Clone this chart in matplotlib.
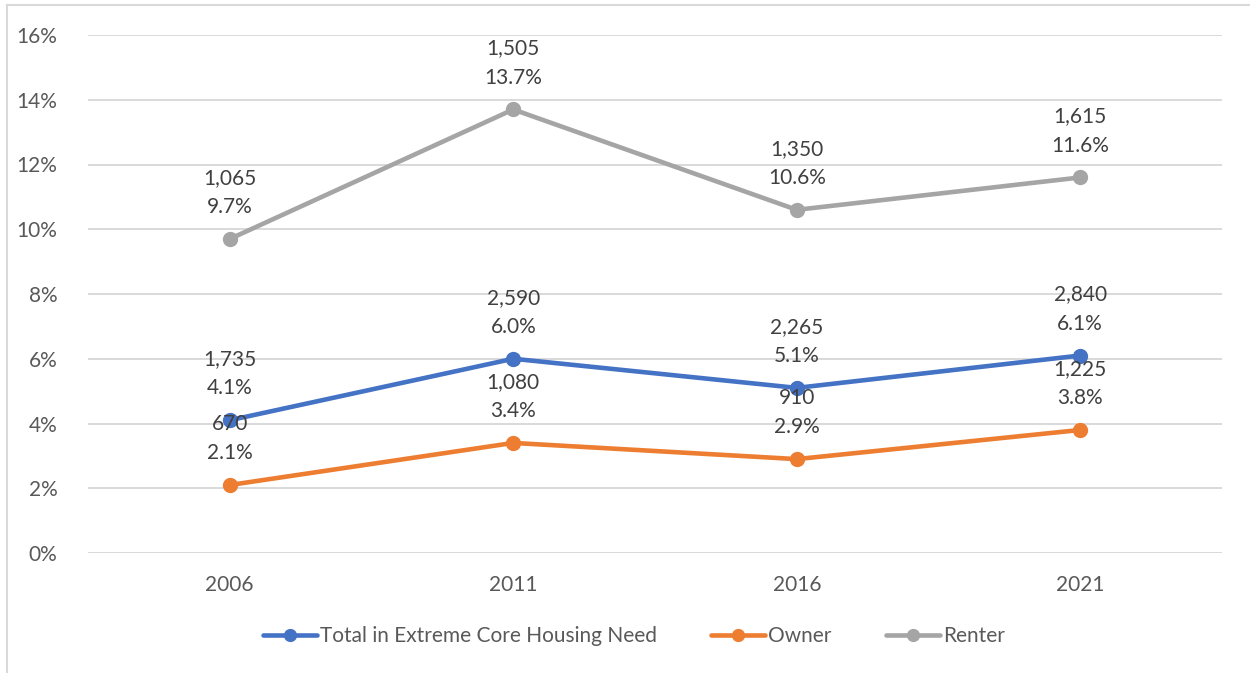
import matplotlib.pyplot as plt
from matplotlib.lines import Line2D
from matplotlib.ticker import FuncFormatter

# census years and extreme core housing need, share and household counts
years = ["2006", "2011", "2016", "2021"]
total_pct = [4.1, 6.0, 5.1, 6.1]
total_cnt = [1735, 2590, 2265, 2840]
owner_pct = [2.1, 3.4, 2.9, 3.8]
owner_cnt = [670, 1080, 910, 1225]
renter_pct = [9.7, 13.7, 10.6, 11.6]
renter_cnt = [1065, 1505, 1350, 1615]

series = [
    ("Total in Extreme Core Housing Need", total_pct, total_cnt, "#4472C4"),
    ("Owner", owner_pct, owner_cnt, "#ED7D31"),
    ("Renter", renter_pct, renter_cnt, "#A5A5A5"),
]

plt.rcParams['font.family'] = ['Lato', 'DejaVu Sans']
label_col = "#404040"
tick_col = "#595959"
fs = 15

fig = plt.figure(figsize=(12.5, 6.73), dpi=100)
ax = fig.add_axes([88 / 1250, 1 - 553 / 673, 1134 / 1250, 518 / 673])

x = list(range(len(years)))
for name, pct, cnt, col in series:
    ax.plot(x, pct, color=col, lw=3.3, marker="o", ms=10, label=name,
            solid_capstyle="round", zorder=3)
    for xi, p, c in zip(x, pct, cnt):
        ax.annotate(f"{p:.1f}%", (xi, p), xytext=(0, 23), textcoords="offset points",
                    ha="center", va="center", fontsize=fs, color=label_col, zorder=4)
        ax.annotate(f"{c:,}", (xi, p), xytext=(0, 44), textcoords="offset points",
                    ha="center", va="center", fontsize=fs, color=label_col, zorder=4)

ax.set_xlim(-0.5, 3.5)
ax.set_ylim(0, 16)
ax.set_yticks(range(0, 17, 2))
ax.yaxis.set_major_formatter(FuncFormatter(lambda v, _: f"{v:.0f}%"))
ax.set_xticks(x)
ax.set_xticklabels(years)
ax.tick_params(length=0, labelsize=fs, colors=tick_col)
ax.tick_params(axis="y", pad=22)
ax.tick_params(axis="x", pad=16)
ax.grid(axis="y", color="#D9D9D9", lw=1.4)
ax.set_axisbelow(True)
for s in ax.spines.values():
    s.set_visible(False)

fig.legend(loc="center", bbox_to_anchor=(0.507, 1 - 636 / 673), ncol=3, frameon=False,
           fontsize=fs, labelcolor=tick_col, handlelength=2.6, handletextpad=0.15,
           columnspacing=2.6, markerscale=0.85)

# outer chart border
border = "#D9D9D9"
fig.add_artist(Line2D([7 / 1250, 7 / 1250], [0, 1 - 5 / 673], color=border, lw=1.5))
fig.add_artist(Line2D([7 / 1250, 1], [1 - 5 / 673, 1 - 5 / 673], color=border, lw=1.5))

fig.savefig("out.png", dpi=100)
